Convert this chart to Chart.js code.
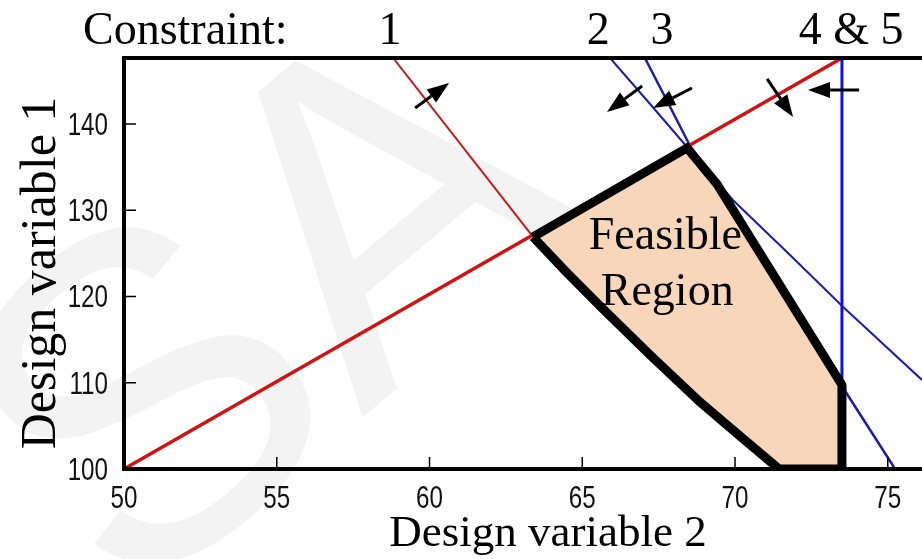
<!DOCTYPE html>
<html>
<head>
<meta charset="utf-8">
<script src="https://cdn.jsdelivr.net/npm/chart.js@4.4.1/dist/chart.umd.min.js"></script>
<style>
  html, body { margin: 0; padding: 0; background: #fff; overflow: hidden; }
</style>
</head>
<body>
<canvas id="chart" width="922" height="559"></canvas>
<script>
// constraint boundaries: x = design variable 2, y = design variable 1
const c1X = [58.81, 63.39];
const c1Y = [147.65, 126.90];
const c2X = [65.91, 67.22, 68.43, 69.93, 71.80, 73.54, 76.12];
const c2Y = [147.65, 142.32, 137.33, 131.19, 124.81, 118.78, 110.32];
const c3X = [67.05, 67.81, 68.53, 69.41, 71.47, 73.54, 75.24];
const c3Y = [147.65, 142.43, 137.45, 132.93, 121.33, 109.39, 100];
const c4X = [50, 73.5];
const c4Y = [100, 147.65];
const c5X = [73.5, 73.5];
const c5Y = [100, 147.65];

// outline of the feasible region
const regionX = [63.39, 68.43, 69.41, 73.5, 73.5, 71.44, 70.16, 68.85, 67.22, 65.58, 64.44, 63.39];
const regionY = [126.90, 137.22, 133.04, 109.74, 100, 100, 103.83, 107.77, 113.22, 118.90, 122.96, 126.90];

// arrows pointing to the allowed side of each constraint
const arrowFromX = [59.53, 66.96, 68.59, 71.05, 74.06];
const arrowFromY = [141.86, 144.41, 144.17, 145.22, 143.94];
const arrowToX = [60.64, 65.81, 67.32, 71.90, 72.39];
const arrowToY = [144.75, 141.39, 141.86, 140.81, 143.94];

const constraintLabels = ['1', '2', '3', '4 & 5'];
const constraintLabelX = [58.71, 65.52, 67.61, 73.80];

const xTicks = [50, 55, 60, 65, 70, 75];
const yTicks = [100, 110, 120, 130, 140];
const xMin = 50, xMax = 76.12;
const yMin = 100, yMax = 147.65;

const serif = '"Liberation Serif", "Times New Roman", serif';
const sans = '"Liberation Sans", Arial, sans-serif';

function pts(xs, ys) {
  return xs.map((x, i) => ({ x: x, y: ys[i] }));
}

function curve(xs, ys, color, width) {
  return {
    data: pts(xs, ys),
    showLine: true,
    borderColor: color,
    borderWidth: width,
    pointRadius: 0,
    fill: false
  };
}

// tick labels in a squeezed sans face
function narrowText(ctx, text, x, y, align) {
  ctx.save();
  ctx.translate(x, y);
  ctx.scale(0.78, 1);
  ctx.textAlign = align;
  ctx.fillText(text, 0, 0);
  ctx.restore();
}

const decorations = {
  id: 'decorations',
  beforeDraw(chart) {
    const ctx = chart.ctx;
    ctx.save();
    ctx.fillStyle = '#fff';
    ctx.fillRect(0, 0, chart.width, chart.height);
    // faint watermark behind the plot
    ctx.translate(127, 615);
    ctx.rotate(-40 * Math.PI / 180);
    ctx.font = '460px ' + sans;
    ctx.fillStyle = '#f3f3f3';
    ctx.textBaseline = 'alphabetic';
    ctx.fillText('SA', 0, 0);
    ctx.restore();
  },
  afterDatasetsDraw(chart) {
    const ctx = chart.ctx;
    const xs = chart.scales.x, ys = chart.scales.y;
    ctx.save();
    ctx.strokeStyle = '#000';
    ctx.fillStyle = '#000';
    ctx.lineWidth = 3;
    for (let i = 0; i < arrowFromX.length; i++) {
      const x0 = xs.getPixelForValue(arrowFromX[i]), y0 = ys.getPixelForValue(arrowFromY[i]);
      const x1 = xs.getPixelForValue(arrowToX[i]), y1 = ys.getPixelForValue(arrowToY[i]);
      const len = Math.hypot(x1 - x0, y1 - y0);
      const ux = (x1 - x0) / len, uy = (y1 - y0) / len;
      const head = 22, half = 8;
      ctx.beginPath();
      ctx.moveTo(x0, y0);
      ctx.lineTo(x1 - ux * head, y1 - uy * head);
      ctx.stroke();
      ctx.beginPath();
      ctx.moveTo(x1, y1);
      ctx.lineTo(x1 - ux * head - uy * half, y1 - uy * head + ux * half);
      ctx.lineTo(x1 - ux * head + uy * half, y1 - uy * head - ux * half);
      ctx.closePath();
      ctx.fill();
    }
    ctx.restore();
  },
  afterDraw(chart) {
    const ctx = chart.ctx;
    const a = chart.chartArea;
    const xs = chart.scales.x, ys = chart.scales.y;
    ctx.save();
    // axes box (no right edge, the plot runs off the page)
    ctx.strokeStyle = '#000';
    ctx.lineWidth = 4;
    ctx.beginPath();
    ctx.moveTo(chart.width, a.top);
    ctx.lineTo(a.left, a.top);
    ctx.lineTo(a.left, a.bottom);
    ctx.lineTo(chart.width, a.bottom);
    ctx.stroke();
    // inward tick marks
    ctx.lineWidth = 1.5;
    ctx.beginPath();
    xs.ticks.forEach(t => {
      const px = xs.getPixelForValue(t.value);
      ctx.moveTo(px, a.bottom);
      ctx.lineTo(px, a.bottom - 12);
    });
    ys.ticks.forEach(t => {
      const py = ys.getPixelForValue(t.value);
      ctx.moveTo(a.left, py);
      ctx.lineTo(a.left + 12, py);
    });
    ctx.stroke();

    // tick labels
    ctx.fillStyle = '#111';
    ctx.font = '31px ' + sans;
    ctx.textBaseline = 'alphabetic';
    xs.ticks.forEach(t => {
      narrowText(ctx, String(t.value), xs.getPixelForValue(t.value), a.bottom + 39, 'center');
    });
    ys.ticks.forEach(t => {
      narrowText(ctx, String(t.value), a.left - 16, ys.getPixelForValue(t.value) + 11, 'right');
    });

    ctx.fillStyle = '#000';
    ctx.font = '46px ' + serif;
    ctx.textAlign = 'left';
    ctx.fillText('Constraint:', 83, 44);
    ctx.textAlign = 'center';
    constraintLabels.forEach((s, i) => {
      ctx.fillText(s, xs.getPixelForValue(constraintLabelX[i]), 44);
    });

    ctx.fillText('Feasible', xs.getPixelForValue(67.72), ys.getPixelForValue(125.5));
    ctx.fillText('Region', xs.getPixelForValue(67.78), ys.getPixelForValue(119.0));

    ctx.font = '45px ' + serif;
    ctx.fillText('Design variable 2', 548, 546);

    ctx.translate(55, 273);
    ctx.rotate(-Math.PI / 2);
    ctx.font = '50px ' + serif;
    ctx.fillText('Design variable 1', 0, 0);
    ctx.restore();
  }
};

new Chart(document.getElementById('chart'), {
  type: 'scatter',
  data: {
    datasets: [
      {
        data: pts(regionX, regionY),
        showLine: true,
        borderColor: '#000',
        borderWidth: 9,
        borderJoinStyle: 'miter',
        backgroundColor: '#f8d6ba',
        pointRadius: 0,
        fill: 'shape'
      },
      curve(c5X, c5Y, '#1010e0', 3),
      curve(c4X, c4Y, '#d01414', 3.5),
      curve(c3X, c3Y, '#1c1cb0', 2.5),
      curve(c2X, c2Y, '#1c1cb0', 2),
      curve(c1X, c1Y, '#c81818', 2)
    ]
  },
  options: {
    responsive: false,
    animation: false,
    devicePixelRatio: 1,
    layout: { padding: { top: 58, left: 0, right: 0, bottom: 0 } },
    plugins: {
      legend: { display: false },
      tooltip: { enabled: false }
    },
    scales: {
      x: {
        type: 'linear',
        min: xMin,
        max: xMax,
        afterBuildTicks: s => { s.ticks = xTicks.map(v => ({ value: v })); },
        afterFit: s => { s.height = 90; },
        grid: { display: false, drawTicks: false },
        border: { display: false },
        ticks: { display: false }
      },
      y: {
        type: 'linear',
        min: yMin,
        max: yMax,
        afterBuildTicks: s => { s.ticks = yTicks.map(v => ({ value: v })); },
        afterFit: s => { s.width = 124; },
        grid: { display: false, drawTicks: false },
        border: { display: false },
        ticks: { display: false }
      }
    }
  },
  plugins: [decorations]
});
</script>
</body>
</html>
